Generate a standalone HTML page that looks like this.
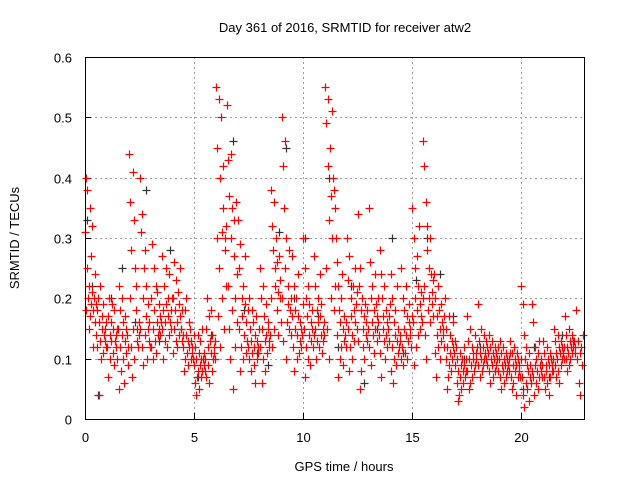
<!DOCTYPE html>
<html><head><meta charset="utf-8"><style>
body{margin:0;background:#fff}
svg{display:block;font-family:"Liberation Sans",sans-serif}
</style></head><body>
<svg id="chart" width="640" height="480" viewBox="0 0 640 480" xmlns="http://www.w3.org/2000/svg">
<rect width="640" height="480" fill="#fff"/>
<text x="345" y="32" font-size="13" text-anchor="middle" fill="#000">Day 361 of 2016, SRMTID for receiver atw2</text>
<text x="0" y="0" font-size="13" text-anchor="middle" transform="translate(19,238) rotate(-90)">SRMTID / TECUs</text>
<text x="344" y="471" font-size="13" text-anchor="middle">GPS time / hours</text>
<g id="grid"></g>
<g id="ticks"></g>
<g id="black"></g>
<g id="red"></g>
<rect x="85.5" y="57.5" width="499" height="362" fill="none" stroke="#000" stroke-width="1"/>
</svg>
<script>
const xTicks=[0,5,10,15,20];
const yTicks=[0,0.1,0.2,0.3,0.4,0.5,0.6];
const yTickLabels=["0","0.1","0.2","0.3","0.4","0.5","0.6"];
const binWidth=0.5;
// red series: values per half-hour bin, bin i starts at i*0.5 h
const redBins=[
[0.31,0.4,0.18,0.25,0.38,0.2,0.15,0.22,0.35,0.17,0.27,0.19,0.32,0.21,0.12,0.18,0.2,0.16,0.24,0.19],
[0.14,0.18,0.12,0.2,0.04,0.16,0.13,0.22,0.1,0.15,0.17,0.11,0.19,0.14,0.13,0.15,0.12,0.16],
[0.12,0.17,0.07,0.2,0.14,0.1,0.16,0.13,0.19,0.11,0.15,0.09,0.18,0.13,0.14,0.12,0.15,0.1],
[0.15,0.05,0.22,0.12,0.18,0.08,0.14,0.2,0.1,0.16,0.06,0.13,0.17,0.11,0.15,0.14,0.09,0.12],
[0.44,0.2,0.36,0.12,0.28,0.07,0.41,0.15,0.33,0.1,0.25,0.18,0.22,0.13,0.15,0.12,0.16,0.14],
[0.4,0.15,0.31,0.12,0.34,0.2,0.09,0.25,0.28,0.14,0.17,0.22,0.1,0.19,0.15,0.13,0.16,0.12],
[0.12,0.2,0.29,0.15,0.1,0.25,0.18,0.13,0.22,0.11,0.16,0.21,0.14,0.19,0.15,0.17,0.14,0.16],
[0.15,0.27,0.18,0.1,0.22,0.16,0.13,0.25,0.19,0.12,0.17,0.2,0.14,0.24,0.16,0.18,0.15,0.2],
[0.2,0.11,0.26,0.15,0.18,0.13,0.23,0.16,0.12,0.21,0.14,0.19,0.17,0.25,0.15,0.13,0.18,0.14],
[0.12,0.08,0.18,0.1,0.14,0.2,0.11,0.13,0.09,0.16,0.12,0.15,0.1,0.13,0.11,0.12,0.1,0.14],
[0.09,0.06,0.12,0.04,0.1,0.07,0.14,0.08,0.11,0.05,0.09,0.13,0.07,0.1,0.15,0.08,0.1,0.09,0.11,0.08],
[0.1,0.15,0.07,0.2,0.12,0.09,0.17,0.06,0.13,0.11,0.18,0.08,0.14,0.1,0.12,0.11,0.13,0.1],
[0.55,0.3,0.45,0.17,0.53,0.25,0.4,0.12,0.5,0.31,0.2,0.42,0.35,0.15,0.28,0.3,0.22,0.32],
[0.52,0.22,0.43,0.15,0.37,0.1,0.3,0.44,0.18,0.35,0.05,0.27,0.33,0.2,0.12,0.36,0.24,0.16],
[0.33,0.15,0.25,0.08,0.29,0.12,0.2,0.17,0.1,0.22,0.14,0.27,0.19,0.11,0.16,0.13,0.18,0.12],
[0.2,0.1,0.15,0.08,0.13,0.18,0.11,0.16,0.09,0.12,0.14,0.06,0.17,0.1,0.13,0.12,0.11,0.15],
[0.25,0.12,0.2,0.06,0.15,0.22,0.1,0.17,0.13,0.08,0.19,0.14,0.11,0.16,0.15,0.13,0.12,0.14],
[0.38,0.2,0.32,0.12,0.28,0.36,0.15,0.25,0.22,0.3,0.18,0.26,0.14,0.21,0.27,0.2,0.23,0.16],
[0.5,0.2,0.42,0.13,0.35,0.46,0.25,0.1,0.3,0.16,0.22,0.19,0.28,0.15,0.18,0.14,0.2,0.17],
[0.27,0.12,0.22,0.08,0.18,0.15,0.2,0.1,0.14,0.24,0.17,0.11,0.16,0.13,0.15,0.12,0.14,0.19],
[0.3,0.15,0.25,0.07,0.2,0.12,0.17,0.1,0.22,0.14,0.19,0.09,0.16,0.13,0.15,0.18,0.12,0.14],
[0.27,0.15,0.22,0.1,0.18,0.13,0.2,0.16,0.12,0.24,0.17,0.14,0.19,0.11,0.15,0.13,0.16,0.14],
[0.55,0.25,0.49,0.15,0.42,0.53,0.33,0.1,0.45,0.37,0.2,0.51,0.3,0.4,0.18,0.38,0.22,0.35],
[0.3,0.14,0.26,0.07,0.22,0.18,0.1,0.16,0.2,0.12,0.24,0.15,0.09,0.13,0.17,0.14,0.16,0.12],
[0.3,0.15,0.23,0.08,0.27,0.12,0.2,0.17,0.1,0.14,0.22,0.18,0.13,0.25,0.16,0.19,0.15,0.21],
[0.34,0.13,0.22,0.05,0.25,0.18,0.08,0.2,0.15,0.12,0.17,0.1,0.19,0.14,0.16,0.13,0.18,0.15],
[0.35,0.12,0.26,0.09,0.2,0.16,0.22,0.14,0.18,0.11,0.24,0.15,0.19,0.13,0.17,0.16,0.2,0.14],
[0.28,0.11,0.24,0.07,0.2,0.15,0.17,0.13,0.22,0.1,0.18,0.14,0.16,0.12,0.15,0.13,0.17,0.19],
[0.24,0.08,0.2,0.12,0.06,0.16,0.1,0.18,0.14,0.09,0.22,0.13,0.11,0.15,0.12,0.14,0.13,0.1],
[0.25,0.12,0.2,0.09,0.15,0.18,0.11,0.22,0.14,0.1,0.17,0.13,0.16,0.19,0.15,0.14,0.12,0.17],
[0.35,0.16,0.3,0.09,0.25,0.2,0.12,0.27,0.18,0.14,0.22,0.32,0.15,0.19,0.17,0.21,0.16,0.2],
[0.46,0.22,0.42,0.14,0.36,0.1,0.32,0.28,0.18,0.25,0.2,0.3,0.16,0.24,0.19,0.21,0.17,0.23],
[0.24,0.11,0.2,0.07,0.17,0.14,0.22,0.12,0.18,0.15,0.1,0.19,0.13,0.16,0.14,0.15,0.12,0.17],
[0.2,0.1,0.15,0.05,0.12,0.07,0.17,0.09,0.14,0.11,0.08,0.13,0.1,0.16,0.12,0.11,0.09,0.13],
[0.12,0.06,0.1,0.03,0.08,0.04,0.11,0.07,0.09,0.05,0.1,0.08,0.06,0.12,0.09,0.07,0.1,0.08],
[0.17,0.08,0.13,0.05,0.1,0.06,0.15,0.09,0.12,0.07,0.11,0.1,0.08,0.14,0.09,0.11,0.1,0.12],
[0.19,0.09,0.13,0.07,0.11,0.1,0.15,0.08,0.12,0.09,0.14,0.1,0.11,0.13,0.1,0.12,0.09,0.11],
[0.14,0.08,0.12,0.06,0.1,0.09,0.13,0.07,0.11,0.1,0.12,0.08,0.09,0.11,0.1,0.12,0.08,0.1],
[0.13,0.07,0.11,0.05,0.09,0.08,0.12,0.06,0.1,0.09,0.11,0.07,0.08,0.1,0.09,0.08,0.1,0.11],
[0.13,0.07,0.11,0.05,0.09,0.06,0.12,0.08,0.1,0.04,0.09,0.11,0.07,0.1,0.08,0.09,0.07,0.1],
[0.22,0.07,0.19,0.04,0.14,0.02,0.1,0.06,0.12,0.05,0.09,0.08,0.11,0.03,0.07,0.09,0.06,0.08],
[0.19,0.07,0.16,0.04,0.12,0.09,0.06,0.1,0.08,0.11,0.05,0.13,0.07,0.09,0.08,0.1,0.07,0.09],
[0.13,0.07,0.11,0.05,0.09,0.08,0.12,0.06,0.1,0.04,0.09,0.11,0.07,0.1,0.08,0.09,0.1,0.08],
[0.15,0.09,0.13,0.07,0.11,0.1,0.14,0.08,0.12,0.06,0.11,0.13,0.09,0.12,0.1,0.11,0.12,0.1],
[0.17,0.1,0.14,0.08,0.12,0.11,0.15,0.09,0.13,0.1,0.12,0.14,0.11,0.13,0.12,0.13,0.11,0.12],
[0.18,0.1,0.13,0.06,0.11,0.04,0.12,0.09,0.14,0.08,0.12,0.11]
];
// black series: [time, value] pairs
const blackT=[0.1,0.3,0.6,1.2,1.7,2.3,2.8,3.4,3.9,4.4,5.2,5.8,6.2,6.8,7.3,7.9,8.4,8.9,9.2,9.6,10.1,10.7,11.2,11.6,12.2,12.8,13.4,14.1,14.6,15.2,15.7,16.3,16.9,17.4,18.1,18.8,19.4,20.1,20.6,21.3,21.9,22.4];
const blackV=[0.33,0.22,0.04,0.2,0.25,0.16,0.38,0.13,0.28,0.15,0.07,0.14,0.4,0.46,0.18,0.11,0.09,0.31,0.45,0.2,0.3,0.17,0.4,0.12,0.22,0.06,0.15,0.3,0.11,0.23,0.3,0.24,0.17,0.1,0.12,0.08,0.09,0.05,0.12,0.07,0.14,0.13];

const L=85,R=584,T=57,B=419,XMAX=22.89,YMAX=0.6;
const xs=t=>L+(R-L)*t/XMAX;
const ys=v=>B-(B-T)*v/YMAX;
const NS="http://www.w3.org/2000/svg";
function mk(tag,attrs,parent){const e=document.createElementNS(NS,tag);for(const k in attrs)e.setAttribute(k,attrs[k]);parent.appendChild(e);return e;}
const grid=document.getElementById('grid'),ticks=document.getElementById('ticks');
xTicks.forEach(t=>{
  const x=Math.round(xs(t))+0.5;
  if(t>0){const g=mk('line',{x1:x,x2:x,y1:T,y2:B,stroke:'#a0a0a0','stroke-dasharray':'2,3'},grid);
  
  }
  const tk=mk('line',{x1:x,x2:x,y1:B,y2:B-6,stroke:'#000'},ticks);
  
  
  const lb=mk('text',{x:x,y:B+23,'font-size':'13','text-anchor':'middle'},ticks);lb.textContent=t;
  
  
});
yTicks.forEach((v,i)=>{
  const y=Math.round(ys(v))+0.5;
  if(v>0&&v<YMAX){const g=mk('line',{x1:L,x2:R,y1:y,y2:y,stroke:'#a0a0a0','stroke-dasharray':'2,3'},grid);
  
  }
  const tk=mk('line',{x1:L,x2:L+6,y1:y,y2:y,stroke:'#000'},ticks);
  
  
  const lb=mk('text',{x:L-13,y:y+5,'font-size':'13','text-anchor':'end'},ticks);lb.textContent=yTickLabels[i];
  
  
});
function plus(g,x,y,c){
  x=Math.round(x)+0.5;y=Math.round(y)+0.5;
  return mk('path',{d:`M${x-4},${y}h8M${x},${y-4}v8`,stroke:c,'stroke-width':'1.2',fill:'none'},g);
}
const bg=document.getElementById('black');
blackT.forEach((t,i)=>{
  const p=plus(bg,xs(t),ys(blackV[i]),'#333');
  
  
});
const rg=document.getElementById('red');
redBins.forEach((vals,i)=>{
  vals.forEach((v,j)=>{
    const t=i*binWidth+(j+0.5)/vals.length*binWidth;
    if(t>XMAX)return;
    const p=plus(rg,xs(t),ys(v),'#ff0000');
    
    
  });
});
</script>
</body></html>
